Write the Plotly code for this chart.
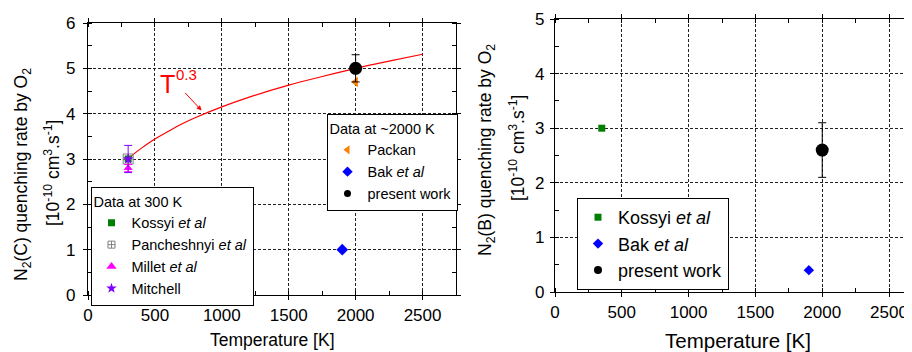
import plotly.graph_objects as go

# ---------------- data ----------------
# Left panel: N2(C) quenching rate by O2 [1e-10 cm3/s]
kossyi_c_T = [300]; kossyi_c_k = [3.0]
panch_T = [300]; panch_k = [3.0]
millet_T = [300]; millet_k = [2.8]; millet_err = [0.08]
mitchell_T = [300]; mitchell_k = [3.0]; mitchell_err = [0.3]
packan_T = [2000]; packan_k = [4.7]
bak_c_T = [1900]; bak_c_k = [1.0]
present_c_T = [2000]; present_c_k = [5.0]; present_c_err = [0.3]
# T^0.3 curve
curve_T = [300, 350, 400, 500, 600, 700, 800, 1000, 1200, 1500, 1750, 2000, 2250, 2500]
curve_k = [3.00, 3.13, 3.24, 3.44, 3.61, 3.77, 3.91, 4.15, 4.36, 4.63, 4.82, 5.00, 5.16, 5.31]

# Right panel: N2(B) quenching rate by O2
kossyi_b_T = [350]; kossyi_b_k = [3.0]
bak_b_T = [1900]; bak_b_k = [0.4]
present_b_T = [2000]; present_b_k = [2.6]; present_b_err = [0.5]

x_ticks = [0, 500, 1000, 1500, 2000, 2500]
y_ticks_left = [0, 1, 2, 3, 4, 5, 6]
y_ticks_right = [0, 1, 2, 3, 4, 5]

FONT = "Liberation Sans, Arial, sans-serif"
GREEN = "#008000"; BLUE = "#0000FF"; BLACK = "#000000"
ORANGE = "#FF8000"; MAGENTA = "#FF00FF"; PURPLE = "#8000FF"; GRAY = "#808080"

# the page body has an 8px margin, so the figure is drawn 8px right/down
OFF = 8
W, H = 912 - OFF, 352 - OFF


def px_x(p):
    return (p - OFF) / W


def px_y(p):
    return (H - (p - OFF)) / H


fig = go.Figure()


def entry(name, legend, marker):
    # legend-only entry (no drawn point)
    fig.add_trace(go.Scatter(x=[None], y=[None], mode="markers", name=name, marker=marker,
                             legend=legend, showlegend=True, xaxis="x", yaxis="y"))


# ---- left panel marks ----
fig.add_trace(go.Scatter(x=curve_T, y=curve_k, mode="lines", line=dict(color="#FF0000", width=1.2, shape="spline"),
                         showlegend=False, xaxis="x", yaxis="y"))
fig.add_trace(go.Scatter(x=kossyi_c_T, y=kossyi_c_k, mode="markers", showlegend=False,
                         marker=dict(symbol="square", size=7, color=GREEN), xaxis="x", yaxis="y"))
fig.add_trace(go.Scatter(x=panch_T, y=panch_k, mode="markers", showlegend=False,
                         marker=dict(symbol="square-cross-open", size=10, color=GRAY, line=dict(width=1, color=GRAY)),
                         xaxis="x", yaxis="y"))
fig.add_trace(go.Scatter(x=millet_T, y=millet_k, mode="markers", showlegend=False,
                         marker=dict(symbol="triangle-up", size=8, color=MAGENTA),
                         error_y=dict(type="data", array=millet_err, color=MAGENTA, thickness=1, width=4),
                         xaxis="x", yaxis="y"))
fig.add_trace(go.Scatter(x=mitchell_T, y=mitchell_k, mode="markers", showlegend=False,
                         marker=dict(symbol="star", size=8, color=PURPLE),
                         error_y=dict(type="data", array=mitchell_err, color=PURPLE, thickness=1, width=4),
                         xaxis="x", yaxis="y"))
fig.add_trace(go.Scatter(x=packan_T, y=packan_k, mode="markers", showlegend=False,
                         marker=dict(symbol="triangle-left", size=9, color=ORANGE), xaxis="x", yaxis="y"))
fig.add_trace(go.Scatter(x=bak_c_T, y=bak_c_k, mode="markers", showlegend=False,
                         marker=dict(symbol="diamond", size=9, color=BLUE), xaxis="x", yaxis="y"))
fig.add_trace(go.Scatter(x=present_c_T, y=present_c_k, mode="markers", showlegend=False,
                         marker=dict(symbol="circle", size=13, color=BLACK),
                         error_y=dict(type="data", array=present_c_err, color=BLACK, thickness=1, width=4),
                         xaxis="x", yaxis="y"))

# ---- right panel marks ----
fig.add_trace(go.Scatter(x=kossyi_b_T, y=kossyi_b_k, mode="markers", showlegend=False,
                         marker=dict(symbol="square", size=7, color=GREEN), xaxis="x2", yaxis="y2"))
fig.add_trace(go.Scatter(x=bak_b_T, y=bak_b_k, mode="markers", showlegend=False,
                         marker=dict(symbol="diamond", size=8, color=BLUE), xaxis="x2", yaxis="y2"))
fig.add_trace(go.Scatter(x=present_b_T, y=present_b_k, mode="markers", showlegend=False,
                         marker=dict(symbol="circle", size=13, color=BLACK),
                         error_y=dict(type="data", array=present_b_err, color=BLACK, thickness=1, width=4),
                         xaxis="x2", yaxis="y2"))

# ---- legend entries ----
entry("Kossyi <i>et al</i>", "legend", dict(symbol="square", size=7, color=GREEN))
entry("Pancheshnyi <i>et al</i>", "legend", dict(symbol="square-cross-open", size=7, color=GRAY, line=dict(width=1, color=GRAY)))
entry("Millet <i>et al</i>", "legend", dict(symbol="triangle-up", size=9, color=MAGENTA))
entry("Mitchell", "legend", dict(symbol="star", size=8, color=PURPLE))
entry("Packan", "legend2", dict(symbol="triangle-left", size=8, color=ORANGE))
entry("Bak <i>et al</i>", "legend2", dict(symbol="diamond", size=8, color=BLUE))
entry("present work", "legend2", dict(symbol="circle", size=7, color=BLACK))
entry("Kossyi <i>et al</i>", "legend3", dict(symbol="square", size=7, color=GREEN))
entry("Bak <i>et al</i>", "legend3", dict(symbol="diamond", size=8, color=BLUE))
entry("present work", "legend3", dict(symbol="circle", size=8, color=BLACK))

axis_common = dict(
    automargin=False,
    showline=True, linecolor="black", linewidth=1.2, mirror="allticks",
    ticks="outside", ticklen=4, tickwidth=1, tickcolor="black",
    showgrid=True, gridcolor="#222222", gridwidth=1, griddash="3px,2px",
    zeroline=False, tickfont=dict(family=FONT, size=17, color="black"),
)

xl = dict(axis_common, domain=[px_x(88), px_x(456)], range=[0, 2750], tickvals=x_ticks,
          minor=dict(dtick=250, ticks="inside", ticklen=4, tickcolor="black", showgrid=False),
          anchor="y")
yl = dict(axis_common, domain=[px_y(295), px_y(23)], range=[0, 6], tickvals=y_ticks_left,
          ticklabelstandoff=4,
          minor=dict(dtick=0.5, ticks="inside", ticklen=4, tickcolor="black", showgrid=False),
          anchor="x")
xr = dict(axis_common, domain=[px_x(555), 1.0], range=[0, 2672], tickvals=x_ticks,
          minor=dict(dtick=250, ticks="inside", ticklen=4, tickcolor="black", showgrid=False),
          anchor="y2")
yr = dict(axis_common, domain=[px_y(292), px_y(19)], range=[0, 5], tickvals=y_ticks_right,
          ticklabelstandoff=2,
          minor=dict(dtick=0.5, ticks="inside", ticklen=4, tickcolor="black", showgrid=False),
          anchor="x2")

legend_common = dict(bgcolor="white", bordercolor="black", borderwidth=1,
                     xanchor="center", yanchor="top", itemsizing="trace",
                     tracegroupgap=0, traceorder="normal")

fig.update_layout(
    template="none",
    width=W, height=H,
    margin=dict(l=0, r=0, t=0, b=0, pad=0, autoexpand=False),
    paper_bgcolor="white", plot_bgcolor="white",
    font=dict(family=FONT, color="black"),
    xaxis=xl, yaxis=yl, xaxis2=xr, yaxis2=yr,
    legend=dict(legend_common, x=px_x(172), y=px_y(187), font=dict(size=14.5, family=FONT),
                title=dict(text="Data at 300 K", font=dict(size=14.5, family=FONT))),
    legend2=dict(legend_common, x=px_x(392), y=px_y(114), font=dict(size=14.5, family=FONT),
                 title=dict(text="Data at ~2000 K", font=dict(size=14.5, family=FONT))),
    legend3=dict(legend_common, x=px_x(653), y=px_y(198), font=dict(size=18, family=FONT)),
)

ann = []
# y-axis titles
ann.append(dict(text="N<sub>2</sub>(C) quenching rate by O<sub>2</sub>", x=px_x(22), y=px_y(175),
                textangle=-90, font=dict(size=17.5)))
ann.append(dict(text="[10<sup>-10</sup> cm<sup>3</sup>.s<sup>-1</sup>]", x=px_x(52), y=px_y(173),
                textangle=-90, font=dict(size=17.5)))
ann.append(dict(text="N<sub>2</sub>(B) quenching rate by O<sub>2</sub>", x=px_x(487), y=px_y(150),
                textangle=-90, font=dict(size=17.5)))
ann.append(dict(text="[10<sup>-10</sup> cm<sup>3</sup>.s<sup>-1</sup>]", x=px_x(517), y=px_y(148),
                textangle=-90, font=dict(size=17.5)))
# x-axis titles
ann.append(dict(text="Temperature [K]", x=px_x(272), y=px_y(340), font=dict(size=17.5)))
ann.append(dict(text="Temperature [K]", x=px_x(738), y=px_y(340), font=dict(size=20.5)))
for a in ann:
    a.update(xref="paper", yref="paper", xanchor="center", yanchor="middle", showarrow=False)
    a["font"].update(family=FONT, color="black")
    fig.add_annotation(**a)

# T^0.3 label with arrow
fig.add_annotation(x=849, y=4.07, ax=716, ay=4.49, xref="x", yref="y", axref="x", ayref="y",
                   text="", showarrow=True, arrowhead=2, arrowsize=1, arrowwidth=1, arrowcolor="#FF0000")
fig.add_annotation(x=597, y=4.66, xref="x", yref="y", text="T", showarrow=False,
                   font=dict(family=FONT, size=25, color="#FF0000"))
fig.add_annotation(x=739, y=4.86, xref="x", yref="y", text="0.3", showarrow=False,
                   font=dict(family=FONT, size=15, color="#FF0000"))

fig.write_html("out.html")
